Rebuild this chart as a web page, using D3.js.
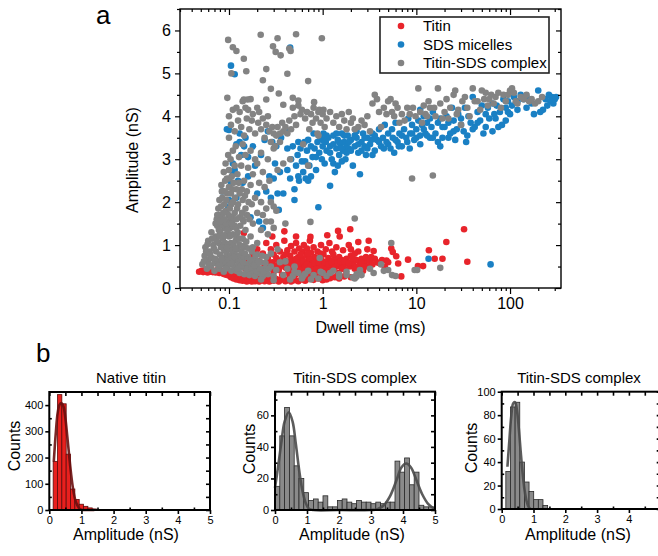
<!DOCTYPE html>
<html><head><meta charset="utf-8">
<script src="https://cdn.jsdelivr.net/npm/d3@7/dist/d3.min.js"></script>
<style>
html,body{margin:0;padding:0;background:#fff;}
svg{display:block;font-family:"Liberation Sans",Arial,sans-serif;}
</style></head><body>
<svg id="c" width="658" height="556"></svg>
<script>
// ---------------- DATA ----------------
const seriesNames = ["Titin", "SDS micelles", "Titin-SDS complex"];
const xTickValues = [0.1, 1, 10, 100];
const xTickLabels = ["0.1", "1", "10", "100"];
const yTickValues = [0, 1, 2, 3, 4, 5, 6];

// [dwell time (ms), amplitude (nS)]
const titinPts = [
[0.048,0.38],[0.051,0.40],[0.053,0.37],[0.055,0.41],[0.057,0.38],[0.059,0.36],[0.061,0.40],[0.063,0.38],[0.065,0.42],[0.067,0.37],[0.069,0.39],[0.072,0.36],[0.074,0.41],[0.076,0.38],[0.079,0.35],[0.081,0.40],[0.084,0.37],[0.087,0.33],[0.09,0.38],[0.093,0.31],[0.096,0.36],[0.099,0.29],[0.102,0.33],[0.105,0.25],[0.108,0.30],[0.112,0.22],[0.116,0.27],[0.12,0.20],[0.125,0.24],[0.13,0.18],[0.135,0.22],[0.14,0.17],[0.145,0.25],[0.15,0.19],[0.155,0.15],[0.16,0.21],[0.165,0.17],[0.17,0.26],[0.175,0.15],[0.18,0.2],[0.19,0.16],[0.2,0.22],[0.21,0.15],[0.22,0.19],[0.23,0.25],[0.24,0.16],[0.25,0.2],[0.27,0.15],[0.28,0.22],[0.3,0.17],[0.32,0.21],[0.34,0.15],[0.36,0.19],[0.38,0.23],[0.4,0.16],[0.43,0.2],[0.46,0.15],[0.5,0.18],[0.55,0.16],[0.6,0.2],[0.65,0.17],[0.7,0.21],[0.8,0.19],[0.9,0.22],[1.0,0.18],[1.1,0.2],[1.2,0.23],[1.35,0.25],[1.5,0.22],[1.7,0.27],[2.0,0.25],
[0.15,0.45],[0.16,0.6],[0.17,0.38],[0.18,0.75],[0.19,0.5],[0.2,0.9],[0.2,0.35],[0.21,0.62],[0.22,0.45],[0.23,0.8],[0.24,0.55],[0.25,0.32],[0.25,1.05],[0.26,0.7],[0.27,0.48],[0.28,0.9],[0.29,0.6],[0.3,0.38],[0.3,0.78],[0.31,0.52],[0.32,1.0],[0.33,0.65],[0.34,0.42],[0.35,0.85],[0.36,0.55],[0.37,0.3],[0.38,0.72],[0.39,1.1],[0.4,0.48],[0.41,0.62],[0.42,0.88],[0.43,0.35],[0.44,0.55],[0.45,0.75],[0.46,0.98],[0.47,0.42],[0.48,0.65],[0.5,0.5],[0.5,0.85],[0.51,0.3],[0.52,1.05],[0.53,0.6],[0.55,0.4],[0.55,0.72],[0.56,0.92],[0.58,0.52],[0.59,0.33],[0.6,0.68],[0.61,0.85],[0.62,0.45],[0.63,1.0],[0.65,0.58],[0.66,0.38],[0.67,0.75],[0.68,0.92],[0.7,0.5],[0.71,0.65],[0.72,0.3],[0.73,1.1],[0.75,0.82],[0.76,0.45],[0.78,0.6],[0.8,0.35],[0.8,0.95],[0.82,0.72],[0.84,0.5],[0.86,0.62],[0.88,0.85],[0.9,0.42],[0.92,0.7],[0.94,0.55],[0.96,1.0],[0.98,0.32],[1.0,0.62],[1.02,0.78],[1.05,0.48],[1.08,0.9],[1.1,0.58],[1.12,0.38],[1.15,0.7],[1.18,1.05],[1.2,0.52],[1.23,0.62],[1.26,0.85],[1.3,0.45],[1.33,0.68],[1.36,0.55],[1.4,0.95],[1.43,0.6],[1.46,0.35],[1.5,0.72],[1.55,0.5],[1.6,0.65],[1.65,0.88],[1.7,0.55],[1.75,0.42],[1.8,0.68],[1.85,0.6],[1.9,1.0],[1.95,0.5],[2.0,0.75],[2.1,0.58],[2.2,0.45],[2.3,0.65],[2.4,0.85],[2.5,0.55],[2.6,0.68],[2.7,0.4],[2.8,0.6],[2.9,0.72],[3.0,0.5],[3.2,0.62],[3.4,0.55],[3.6,0.68],[3.8,0.6],[4.0,0.58],[4.3,0.65],[4.6,0.5],[5.0,0.6],
[0.27,0.58],[0.29,0.45],[0.32,0.7],[0.35,0.5],[0.38,0.6],[0.42,0.45],[0.45,0.62],[0.48,0.52],[0.52,0.68],[0.55,0.58],[0.58,0.42],[0.62,0.62],[0.65,0.5],[0.68,0.55],[0.72,0.7],[0.75,0.52],[0.78,0.42],[0.82,0.58],[0.86,0.45],[0.9,0.6],[0.95,0.68],[1.0,0.5],[1.05,0.6],[1.1,0.45],[1.15,0.55],[1.25,0.6],[1.35,0.48],[1.45,0.58],[1.55,0.62],[1.7,0.62],[1.9,0.58],[2.1,0.68],[2.3,0.5],[2.6,0.58],[0.6,0.25],[0.85,0.28],[1.2,0.3],[0.45,0.28],[0.7,0.8],[0.95,0.8],[1.3,0.78],[0.4,0.78],[0.58,0.78],[1.6,0.45],[2.2,0.8],[2.8,0.5],[3.3,0.72],[3.0,0.9],[2.0,0.9],
[0.144,1.28],[0.29,1.2],[0.39,1.32],[0.52,1.2],[0.74,1.19],[1.12,1.23],[1.46,1.33],[1.52,1.2],[1.97,1.37],[2.4,1.07],[3.1,1.1],[3.5,0.86],[4.8,0.64],[5.4,0.92],[5.6,0.84],[6.1,0.74],[6.4,0.57],[6.9,0.27],[8.15,0.66],[10.4,0.51],[11.8,0.51],[13.6,0.88],[15.7,0.68],[19,0.68],[20.9,1.07],[32.3,1.37],[35,0.61]
];

const sdsPts = [
[0.085,2.25],[0.095,3.7],[0.1,3.68],[0.098,1.9],[0.1,2.05],[0.105,5.18],[0.115,4.98],[0.105,2.45],[0.11,2.9],[0.11,2.65],[0.115,2.75],[0.12,3.35],[0.12,2.1],[0.125,2.5],[0.13,3.4],[0.13,3.6],[0.135,3.1],[0.14,2.45],[0.145,3.3],[0.15,3.5],[0.16,2.6],[0.16,3.05],[0.17,1.65],[0.18,3.3],[0.19,2.85],[0.2,2.2],[0.21,1.55],[0.22,3.1],[0.23,1.4],[0.24,3.45],[0.25,2.25],[0.26,3.65],[0.27,2.6],[0.28,2.1],[0.29,3.4],[0.3,2.55],[0.31,2.9],[0.32,3.3],[0.33,2.2],[0.34,1.82],[0.35,2.7],[0.36,3.5],[0.38,2.2],[0.4,3.65],[0.42,3.25],[0.45,5.6],[0.45,2.55],[0.46,3.0],[0.48,3.3],[0.5,2.3],[0.5,2.05],[0.52,2.85],[0.54,3.1],[0.55,2.6],[0.56,2.5],[0.58,3.25],[0.6,2.95],[0.62,2.7],[0.64,3.4],[0.66,2.55],[0.68,3.2],[0.7,3.45],[0.72,2.85],[0.75,3.3],[0.78,3.05],[0.8,3.6],[0.82,3.25],[0.85,2.75],[0.88,3.4],[0.9,1.88],[0.92,3.15],[0.95,3.5],[0.98,3.0],[1.0,3.3],[1.02,3.6],[1.05,2.9],[1.08,3.4],[1.1,3.2],[1.15,3.5],[1.2,2.38],[1.2,3.3],[1.25,3.0],[1.3,3.55],[1.35,2.7],[1.4,3.25],[1.45,3.45],[1.5,3.1],[1.55,3.35],[1.6,3.6],[1.65,3.2],[1.7,3.4],[1.75,3.0],[1.8,3.3],[1.85,3.55],[1.9,3.25],[2.0,3.45],[2.1,2.85],[2.2,3.3],[2.3,3.5],[2.4,3.15],[2.5,2.65],[2.6,3.4],[2.7,3.6],[2.8,3.3],[2.9,3.1],[3.0,3.5],[3.2,3.35],[3.4,3.6],[3.6,3.2],[3.8,3.45],[4.0,3.7],[4.2,3.3],[4.4,3.5],[4.6,3.8],[4.8,3.4],[5.0,3.6],[5.3,3.25],[5.6,3.5],[6.0,3.85],[6.3,3.4],[6.6,3.6],[7.0,3.3],[7.4,3.7],[7.8,3.5],[8.2,3.95],[8.6,3.6],[9.0,3.8],[9.5,3.45],[10,3.7],[10.5,3.9],[11,3.55],[11.5,3.8],[12,4.0],[12.5,3.6],[13,3.85],[13.5,0.68],[14,3.5],[14.5,3.75],[15,4.1],[16,3.6],[17,3.85],[18,3.95],[19,3.5],[20,3.75],[21,4.0],[22,3.85],[23,3.6],[24,4.2],[25,3.9],[27,3.7],[28,4.05],[30,3.95],[32,3.65],[34,3.4],[36,4.0],[38,3.85],[40,4.45],[42,3.75],[45,4.1],[48,3.9],[50,4.25],[52,3.6],[55,4.05],[58,4.2],[60,3.95],[62,0.55],[65,4.3],[68,4.05],[72,4.25],[75,3.75],[78,4.1],[82,3.8],[85,4.4],[90,4.2],[95,4.35],[100,4.05],[105,4.25],[110,4.45],[120,4.35],[130,4.5],[140,4.4],[150,4.45],[170,4.3],[200,4.6],[210,4.1],[225,4.15],[240,4.4],[260,4.5],[270,4.35],[280,4.45],[290,4.3],[300,4.4],[310,4.45],
[1.0,3.45],[1.1,3.55],[1.2,3.15],[1.3,3.35],[1.4,3.6],[1.5,3.4],[1.6,3.25],[1.7,3.55],[1.8,3.15],[1.9,3.4],[2.0,3.2],[2.2,3.55],[2.4,3.35],[2.6,3.2],[2.8,3.5],[3.0,3.25],[3.3,3.45],[3.6,3.55],[4.0,3.4],[4.5,3.25],[5.0,3.35],[5.5,3.7],[6.0,3.45],[6.5,3.3],[7.0,3.55],[8.0,3.4],[9.0,3.6],[10,3.5],[11,3.35],[12,3.7],[13,3.55],[15,3.5],[17,3.4],[19,3.75],[22,3.5],[25,3.65],[30,3.8],[35,3.55],[45,3.85],[55,3.75],[70,3.95],[90,3.9],[120,4.15],[0.65,2.95],[0.75,2.6],[0.55,3.4],[0.85,3.05],[0.42,2.75],[0.7,2.5],[1.3,2.9],[1.6,2.95],
[8.5,3.25],[14,3.95],[26,3.45],[40,3.7],[65,3.65],[33,4.2],[18,3.3],[11,4.15],[5.8,3.15],[3.4,3.1],[2.3,3.65],[1.45,2.85],[95,4.1],[150,4.2],[180,4.05],[250,4.25]
];

const complexPts = [
[0.052,0.55],[0.055,0.75],[0.056,0.95],[0.058,0.45],[0.06,0.65],[0.06,1.1],[0.062,0.85],[0.064,0.5],[0.065,1.3],[0.066,0.7],[0.068,1.0],[0.07,0.4],[0.07,0.58],[0.072,1.2],[0.073,0.85],[0.075,1.45],[0.076,0.62],[0.078,1.05],[0.079,0.45],[0.08,0.78],[0.081,1.3],[0.082,0.95],[0.084,0.55],[0.085,1.6],[0.086,1.15],[0.087,0.7],[0.088,0.38],[0.089,0.88],[0.09,1.4],[0.091,1.05],[0.092,0.6],[0.093,1.8],[0.094,0.8],[0.095,1.25],[0.096,0.48],[0.097,1.0],[0.098,1.55],[0.099,0.7],[0.1,0.9],[0.1,1.2],[0.102,0.55],[0.103,1.4],[0.104,0.75],[0.105,1.05],[0.106,0.4],[0.107,1.65],[0.108,0.88],[0.11,0.62],[0.11,1.25],[0.112,0.98],[0.114,0.5],[0.115,1.45],[0.116,0.78],[0.118,1.1],[0.12,0.4],[0.12,0.65],[0.122,0.9],[0.124,1.3],[0.126,0.55],[0.128,0.75],[0.13,1.0],[0.13,0.35],[0.133,0.62],[0.136,0.85],[0.14,0.48],[0.14,1.15],[0.143,0.7],[0.146,0.32],[0.15,0.55],[0.15,0.95],[0.155,0.42],[0.16,0.72],[0.165,0.3],[0.17,0.58],[0.175,0.85],[0.18,0.4],[0.185,0.65],[0.19,0.28],[0.2,0.5],[0.2,0.78],[0.21,0.35],[0.22,0.6],[0.23,0.28],[0.24,0.45],[0.25,0.72],[0.26,0.32],[0.28,0.5],[0.3,0.28],[0.32,0.42],[0.35,0.6],[0.38,0.3],[0.42,0.45],[0.48,0.28],[0.55,0.35],[0.62,0.28],[0.7,0.4],[0.8,0.3],[0.9,0.22],[1.0,0.35],[1.1,0.28],[1.3,0.4],[1.5,0.32],[1.8,0.3],[2.1,0.25],[2.3,0.32],[2.5,0.42],[0.45,0.2],[0.6,0.22],[0.75,0.2],[0.3,0.18],[0.22,0.2],[0.5,0.5],[0.4,0.62],[0.28,0.8],[0.33,0.9],[0.2,1.05],[0.17,1.2],[0.15,1.35],[0.18,1.5],[0.14,1.6],[0.16,0.55],
[0.054,0.62],[0.057,0.85],[0.059,1.02],[0.061,0.55],[0.063,0.78],[0.066,1.15],[0.069,0.92],[0.071,0.68],[0.074,1.1],[0.077,0.52],[0.079,1.22],[0.083,0.68],[0.086,0.95],[0.089,1.22],[0.092,0.45],[0.095,0.95],[0.097,1.35],[0.101,0.65],[0.104,1.22],[0.107,0.58],[0.11,1.45],[0.113,0.72],[0.117,0.92],[0.121,1.18],[0.125,0.45],[0.129,1.15],[0.134,0.52],[0.138,0.98],[0.142,0.6],[0.148,0.8],[0.153,1.08],[0.158,0.45],[0.163,0.92],[0.168,0.65],[0.174,0.48],[0.18,0.95],[0.186,0.52],[0.192,0.75],[0.198,0.38],[0.205,0.62],[0.215,0.45],[0.225,0.75],[0.235,0.38],[0.245,0.58],[0.265,0.45],
[0.074,1.6],[0.077,1.85],[0.079,2.05],[0.081,1.7],[0.084,2.25],[0.086,1.45],[0.089,1.95],[0.091,2.5],[0.093,1.5],[0.096,2.2],[0.099,1.7],[0.101,2.55],[0.104,1.65],[0.106,1.95],[0.109,2.3],[0.112,1.6],[0.116,2.1],[0.119,1.4],[0.122,1.85],[0.127,2.45],[0.131,1.65],[0.137,2.3],[0.143,1.55],[0.148,2.15],[0.156,1.7],[0.162,2.0],
[0.072,1.5],[0.075,1.7],[0.078,1.35],[0.08,1.55],[0.082,1.9],[0.083,2.4],[0.085,2.1],[0.087,1.75],[0.088,2.7],[0.09,2.25],[0.09,1.6],[0.092,2.9],[0.094,2.05],[0.095,2.55],[0.096,1.35],[0.098,3.1],[0.1,2.35],[0.1,2.75],[0.102,1.85],[0.104,3.0],[0.105,2.2],[0.107,2.6],[0.108,1.5],[0.11,3.2],[0.11,2.0],[0.112,2.45],[0.115,1.75],[0.115,2.85],[0.118,3.3],[0.12,2.3],[0.12,1.6],[0.123,2.65],[0.125,1.95],[0.128,3.05],[0.13,2.2],[0.132,1.45],[0.135,2.85],[0.138,1.75],[0.14,2.05],[0.14,3.35],[0.145,2.5],[0.15,1.85],[0.15,3.1],[0.155,2.25],[0.16,2.8],[0.165,1.6],[0.17,3.2],[0.17,2.4],[0.175,1.95],[0.18,2.65],[0.19,3.0],[0.19,2.1],[0.2,1.75],[0.2,2.9],[0.21,2.45],[0.22,3.15],[0.22,2.0],[0.23,2.7],[0.24,2.35],[0.25,1.85],[0.26,3.0],[0.27,2.5],[0.28,2.0],[0.3,1.9],[0.3,3.25],[0.32,1.8],[0.33,2.75],[0.35,3.4],[0.38,2.9],[0.4,1.5],[0.45,3.0],[0.7,2.85],[0.74,1.54],[0.9,3.55],[2.2,1.62],[0.25,1.55],[0.28,1.55],[0.23,1.7],[0.3,1.4],[0.26,1.25],[0.22,1.35],
[0.1,3.5],[0.1,4.0],[0.105,3.8],[0.11,4.15],[0.115,3.65],[0.12,4.2],[0.125,3.9],[0.13,4.1],[0.135,3.75],[0.14,4.35],[0.145,3.55],[0.15,4.2],[0.155,3.95],[0.16,4.15],[0.165,3.7],[0.17,4.4],[0.175,3.9],[0.18,4.05],[0.19,3.6],[0.2,4.2],[0.205,3.85],[0.21,4.1],[0.22,3.7],[0.23,3.95],[0.24,3.5],[0.25,3.8],[0.26,4.0],[0.27,3.65],[0.28,3.4],[0.29,3.75],[0.3,3.6],[0.31,3.3],[0.32,3.55],[0.33,3.75],[0.35,3.6],[0.37,3.85],[0.38,3.65],[0.4,3.75],[0.42,3.6],[0.44,3.9],[0.46,3.7],[0.48,4.2],[0.5,4.0],[0.52,3.8],[0.55,4.25],[0.58,4.05],[0.6,4.15],[0.62,3.35],[0.65,3.95],[0.68,4.1],[0.72,3.7],[0.75,4.05],[0.78,3.85],[0.8,4.2],[0.85,3.95],[0.88,3.6],[0.9,4.1],[0.92,4.15],[0.95,3.85],[1.0,4.05],[1.02,4.15],[1.05,3.75],[0.096,4.43],[0.144,4.39],[0.158,4.39],[0.25,4.39],[0.48,4.43],[0.55,4.37],[0.81,4.33],[0.38,4.27],[0.28,4.64],[0.34,4.53],[0.23,4.84],[0.7,4.82],[0.42,4.99],[0.25,5.1],[0.153,5.05],[0.106,5.0],[0.144,5.34],[0.12,5.52],[0.11,5.61],[0.098,5.78],[0.218,5.9],[0.33,5.82],[0.295,5.63],[0.315,5.5],[0.356,5.42],[0.455,5.52],[0.52,5.91],[0.98,5.82],[0.44,5.58],
[1.1,3.95],[1.2,4.1],[1.3,3.85],[1.4,4.0],[1.5,3.75],[1.6,4.05],[1.7,3.9],[1.8,3.7],[1.9,4.1],[2.0,3.85],[2.1,3.95],[2.2,3.7],[2.4,3.75],[2.6,3.9],[2.8,3.8],[3.0,4.0],[3.2,3.65],[3.4,4.3],[3.6,4.5],[3.8,4.4],[4.0,4.1],[4.2,3.75],[4.5,4.2],[4.8,4.05],[5.0,4.35],[5.3,4.4],[5.5,4.1],[5.8,4.0],[6.0,4.3],[6.3,4.2],[6.6,3.85],[7.0,4.05],[7.5,3.9],[8.0,4.2],[8.5,4.05],[9.0,2.55],[9.2,4.2],[9.8,4.0],[10.5,4.65],[11,4.1],[11.5,3.85],[12,4.25],[12.5,4.05],[13,4.0],[13.5,4.35],[14,4.2],[15,2.62],[15.5,4.2],[16,4.0],[17,4.65],[18,4.3],[19,3.95],[20,4.1],[21,4.4],[22,3.95],[23,4.2],[25,4.5],[26,4.6],[27,4.05],[28,4.15],[30,3.8],[31,4.35],[33,4.45],[35,4.2],[37,4.0],[40,4.65],[42,4.35],[45,4.35],[48,4.15],[50,4.6],[53,4.4],[55,4.55],[58,4.25],[60,4.4],[63,4.5],[67,4.3],[70,4.45],[75,4.55],[80,4.2],[85,4.5],[90,4.35],[95,4.5],[100,4.6],[105,4.65],[110,4.55],[115,4.35],[120,4.3],[130,4.45],[140,4.4],[150,4.5],[160,4.35],[170,4.4],[185,4.3],[200,4.35],[220,4.45],
[5.4,1.05],[18,0.47],[10.2,0.42],[9.6,0.42],[0.93,0.7],[2.29,0.26],[5,0.42],[3.5,0.35],[4.5,0.4],[2.6,0.3],[2.2,0.22],[1.8,0.38],[1.5,0.26],[1.2,0.35],[0.95,0.38],[0.65,0.33],[0.5,0.38],[5.5,0.3],[6,0.28],[4.2,0.55],[3.2,0.45]
];

// Histogram b1: Native titin
const nativeBinStart = [0.12,0.255,0.39,0.525,0.66,0.795,0.93,1.065,1.2,1.335];
const nativeBinWidth = 0.135;
const nativeCounts = [185,440,405,213,80,40,22,14,8,4];
const nativeFit = [[0.14,185],[0.2,290],[0.26,370],[0.32,402],[0.38,408],[0.44,395],[0.5,350],[0.56,280],[0.62,205],[0.68,135],[0.74,80],[0.8,42],[0.87,18],[0.94,5],[1.0,1],[1.1,0],[1.25,0],[1.4,0]];

// Histogram b2: Titin-SDS complex (bimodal)
const complexBinStart = [0,0.15,0.3,0.45,0.6,0.75,0.9,1.05,1.2,1.35,1.5,1.65,1.8,1.95,2.1,2.25,2.4,2.55,2.7,2.85,3.0,3.15,3.3,3.45,3.6,3.75,3.9,4.05,4.2,4.35,4.5,4.65,4.8];
const complexBinWidth = 0.15;
const complexCounts = [15,47,65,47,28,20,11,6,7,5,9,2,2,6,7,5,4,6,5,5,4,5,4,5,5,31,24,33,16,24,3,2,2];
const complexFit = [[0,14],[0.1,28],[0.2,43],[0.3,56],[0.43,62],[0.55,56],[0.65,42],[0.75,26],[0.85,13],[0.95,5],[1.05,1],[1.2,0],[2,0],[3,0],[3.2,0.5],[3.4,3],[3.6,9],[3.8,19],[3.95,27],[4.1,29.5],[4.25,27],[4.4,20],[4.6,10],[4.8,3.5],[5,0.5]];

// Histogram b3: Titin-SDS complex (single peak)
const complex2BinStart = [0.13,0.276,0.422,0.568,0.714,0.86,1.006,1.152,1.298];
const complex2BinWidth = 0.146;
const complex2Counts = [32,87,91,40,23,15,8,8,3];
const complex2Fit = [[0.18,36],[0.24,58],[0.3,79],[0.36,90],[0.42,91],[0.48,84],[0.54,68],[0.6,48],[0.66,30],[0.72,16],[0.78,7],[0.84,2],[0.9,0]];

const histXTicks = [0, 1, 2, 3, 4, 5];

// ---------------- DRAW ----------------
const svg = d3.select("#c");
const FONT = '"Liberation Sans",Arial,sans-serif';
const colors = {titin:"#e8242b", sds:"#1a80c4", complex:"#838383"};
const intFmt = d3.format("d");

// ===== Panel a: scatter =====
const A = {l:180, r:561, t:9, b:288};
const x = d3.scaleLog().domain([0.03, 350]).range([A.l, A.r]);
const y = d3.scaleLinear().domain([0, 6.5]).range([A.b, A.t]);

const minorX = [];
[0.01,0.1,1,10,100].forEach(dec => { for (let k=2;k<=9;k++){ const v=dec*k; if (v>=0.03 && v<=350) minorX.push(v);} });
const minorY = [0.5,1.5,2.5,3.5,4.5,5.5,6.5];

function styleAxis(g, fs){
  g.selectAll(".domain").remove();
  g.selectAll("line").attr("stroke","#000").attr("stroke-width",1.2);
  g.selectAll("text").attr("font-family",FONT).attr("font-size",fs).attr("fill","#000");
}

const ga = svg.append("g");
const dots = ga.append("g");
dots.selectAll(".t").data(titinPts).enter().append("circle")
  .attr("cx",d=>x(d[0])).attr("cy",d=>y(d[1])).attr("r",3.3).attr("fill",colors.titin);
dots.selectAll(".s").data(sdsPts).enter().append("circle")
  .attr("cx",d=>x(d[0])).attr("cy",d=>y(d[1])).attr("r",3.3).attr("fill",colors.sds);
dots.selectAll(".c").data(complexPts).enter().append("circle")
  .attr("cx",d=>x(d[0])).attr("cy",d=>y(d[1])).attr("r",3.3).attr("fill",colors.complex);

ga.append("g").attr("transform",`translate(0,${A.b})`)
  .call(d3.axisBottom(x).tickValues(xTickValues).tickFormat((d,i)=>xTickLabels[i]).tickSize(6).tickPadding(4))
  .call(g=>styleAxis(g,16));
ga.append("g").attr("transform",`translate(0,${A.b})`)
  .call(d3.axisBottom(x).tickValues(minorX).tickFormat("").tickSize(3)).call(g=>styleAxis(g,16));
ga.append("g").attr("transform",`translate(0,${A.t})`)
  .call(d3.axisTop(x).tickValues(xTickValues).tickFormat("").tickSize(-6)).call(g=>styleAxis(g,16));
ga.append("g").attr("transform",`translate(0,${A.t})`)
  .call(d3.axisTop(x).tickValues(minorX).tickFormat("").tickSize(-3)).call(g=>styleAxis(g,16));
ga.append("g").attr("transform",`translate(${A.l},0)`)
  .call(d3.axisLeft(y).tickValues(yTickValues).tickFormat(intFmt).tickSize(5).tickPadding(4)).call(g=>styleAxis(g,16));
ga.append("g").attr("transform",`translate(${A.l},0)`)
  .call(d3.axisLeft(y).tickValues(minorY).tickFormat("").tickSize(3)).call(g=>styleAxis(g,16));
ga.append("g").attr("transform",`translate(${A.r},0)`)
  .call(d3.axisRight(y).tickValues(yTickValues).tickFormat("").tickSize(-5)).call(g=>styleAxis(g,16));
ga.append("g").attr("transform",`translate(${A.r},0)`)
  .call(d3.axisRight(y).tickValues(minorY).tickFormat("").tickSize(-3)).call(g=>styleAxis(g,16));
ga.append("rect").attr("x",A.l).attr("y",A.t).attr("width",A.r-A.l).attr("height",A.b-A.t)
  .attr("fill","none").attr("stroke","#000").attr("stroke-width",1.4);

ga.append("text").attr("x",(A.l+A.r)/2).attr("y",333).attr("text-anchor","middle")
  .attr("font-family",FONT).attr("font-size",16).text("Dwell time (ms)");
ga.append("text").attr("transform",`translate(138,160) rotate(-90)`).attr("text-anchor","middle")
  .attr("font-family",FONT).attr("font-size",16).text("Amplitude (nS)");
svg.append("text").attr("x",96).attr("y",24).attr("font-family",FONT).attr("font-size",26).text("a");

const lg = ga.append("g");
lg.append("rect").attr("x",380).attr("y",17).attr("width",169).attr("height",56)
  .attr("fill","#fff").attr("stroke","#222").attr("stroke-width",1.6);
const legCols = [colors.titin, colors.sds, colors.complex];
seriesNames.forEach((n,i)=>{
  const yy = 26 + i*18.5;
  lg.append("circle").attr("cx",401).attr("cy",yy).attr("r",3.3).attr("fill",legCols[i]);
  lg.append("text").attr("x",423).attr("y",yy+5).attr("font-family",FONT).attr("font-size",15).text(n);
});

// ===== Panel b: histograms =====
svg.append("text").attr("x",36).attr("y",362).attr("font-family",FONT).attr("font-size",26).text("b");

function histogram(opt){
  const g = svg.append("g");
  const hx = d3.scaleLinear().domain([0,5]).range([opt.l, opt.r]);
  const hy = d3.scaleLinear().domain([0,opt.ymax]).range([opt.b, opt.t]);
  g.selectAll("rect.bar").data(opt.starts).enter().append("rect")
    .attr("x",(d)=>hx(d)).attr("width",(d)=>hx(d+opt.width)-hx(d))
    .attr("y",(d,i)=>hy(opt.counts[i])).attr("height",(d,i)=>hy(0)-hy(opt.counts[i]))
    .attr("fill",opt.fill).attr("stroke",opt.barStroke).attr("stroke-width",0.8);
  g.append("path").datum(opt.fit)
    .attr("d", d3.line().x(d=>hx(d[0])).y(d=>hy(d[1])).curve(d3.curveCatmullRom))
    .attr("fill","none").attr("stroke",opt.fitColor).attr("stroke-width",2.6).attr("stroke-opacity",0.9);
  const xMinor = [0.5,1.5,2.5,3.5,4.5];
  g.append("g").attr("transform",`translate(0,${opt.b})`)
    .call(d3.axisBottom(hx).tickValues(histXTicks).tickFormat(d => d <= opt.xLabelMax ? intFmt(d) : "").tickSize(4).tickPadding(2))
    .call(a=>styleAxis(a,11));
  g.append("g").attr("transform",`translate(0,${opt.b})`)
    .call(d3.axisBottom(hx).tickValues(xMinor).tickFormat("").tickSize(-2.5)).call(a=>styleAxis(a,11));
  g.append("g").attr("transform",`translate(0,${opt.t})`)
    .call(d3.axisTop(hx).tickValues([0,0.5,1,1.5,2,2.5,3,3.5,4,4.5,5]).tickFormat("").tickSize(-4)).call(a=>styleAxis(a,11));
  g.append("g").attr("transform",`translate(${opt.l},0)`)
    .call(d3.axisLeft(hy).tickValues(opt.yTicks).tickFormat(intFmt).tickSize(4).tickPadding(2)).call(a=>styleAxis(a,11));
  g.append("g").attr("transform",`translate(${opt.l},0)`)
    .call(d3.axisLeft(hy).tickValues(opt.yMinor).tickFormat("").tickSize(-2.5)).call(a=>styleAxis(a,11));
  g.append("g").attr("transform",`translate(${opt.r},0)`)
    .call(d3.axisRight(hy).tickValues(opt.yTicks.concat(opt.yMinor)).tickFormat("").tickSize(-4)).call(a=>styleAxis(a,11));
  g.selectAll("line").attr("stroke-width",1.6);
  g.append("rect").attr("x",opt.l).attr("y",opt.t).attr("width",opt.r-opt.l).attr("height",opt.b-opt.t)
    .attr("fill","none").attr("stroke","#000").attr("stroke-width",2);
  g.append("text").attr("x",opt.titleX).attr("y",383).attr("text-anchor","middle")
    .attr("font-family",FONT).attr("font-size",15).text(opt.title);
  g.append("text").attr("x",opt.xTitleX).attr("y",540).attr("text-anchor","middle")
    .attr("font-family",FONT).attr("font-size",16).text("Amplitude (nS)");
  g.append("text").attr("transform",`translate(${opt.yTitleX},${opt.yTitleY}) rotate(-90)`).attr("text-anchor","middle")
    .attr("font-family",FONT).attr("font-size",16).text("Counts");
}

histogram({l:49.3, r:210, t:392, b:510, ymax:450, yTicks:[0,100,200,300,400], yMinor:[50,150,250,350], xLabelMax:5,
  starts:nativeBinStart, width:nativeBinWidth, counts:nativeCounts, fit:nativeFit,
  fill:"#e8201e", barStroke:"#5a0c0c", fitColor:"#6a0e0e",
  title:"Native titin", titleX:131, xTitleX:126, yTitleX:20, yTitleY:446});
histogram({l:275, r:435, t:391.7, b:510, ymax:75, yTicks:[0,20,40,60], yMinor:[10,30,50,70], xLabelMax:5,
  starts:complexBinStart, width:complexBinWidth, counts:complexCounts, fit:complexFit,
  fill:"#8a8a8a", barStroke:"#2a2a2a", fitColor:"#4a4a4a",
  title:"Titin-SDS complex", titleX:355, xTitleX:352, yTitleX:255, yTitleY:449});
histogram({l:501.7, r:660.7, t:391.7, b:509, ymax:100, yTicks:[0,20,40,60,80,100], yMinor:[10,30,50,70,90], xLabelMax:4,
  starts:complex2BinStart, width:complex2BinWidth, counts:complex2Counts, fit:complex2Fit,
  fill:"#8a8a8a", barStroke:"#2a2a2a", fitColor:"#4a4a4a",
  title:"Titin-SDS complex", titleX:579, xTitleX:578, yTitleX:477, yTitleY:448});
</script>
</body></html>
